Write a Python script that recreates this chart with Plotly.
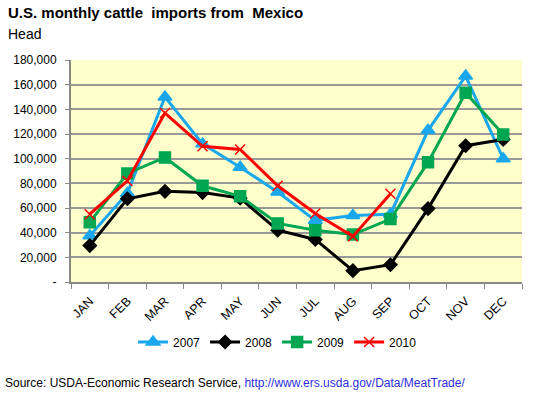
import plotly.graph_objects as go

months = ["JAN", "FEB", "MAR", "APR", "MAY", "JUN", "JUL", "AUG", "SEP", "OCT", "NOV", "DEC"]
y2007 = [37500, 72000, 150000, 112000, 93000, 73000, 50000, 54000, 55000, 123000, 167000, 100000]
y2008 = [29500, 67500, 73500, 72500, 68000, 42000, 34500, 9200, 14000, 59500, 110500, 115500]
y2009 = [48500, 88000, 101000, 78000, 69500, 47500, 42000, 38500, 51000, 97000, 153500, 119500]
y2010 = [55000, 82000, 137000, 110000, 107500, 78000, 55500, 37000, 71500]
tick_vals = [0, 20000, 40000, 60000, 80000, 100000, 120000, 140000, 160000, 180000]
tick_text = ["-", "20,000", "40,000", "60,000", "80,000", "100,000", "120,000", "140,000", "160,000", "180,000"]

FONT = "Liberation Sans, Arial, sans-serif"

fig = go.Figure()
series = [
    ("2007", y2007, "#1AA7EC", "triangle-up", 12),
    ("2008", y2008, "#000000", "diamond", 10),
    ("2009", y2009, "#00A651", "square", 11),
    ("2010", y2010, "#FF0000", "x-thin", 10),
]
for name, vals, color, sym, sz in series:
    fig.add_trace(go.Scatter(
        x=months[:len(vals)], y=vals, name=name, mode="lines+markers",
        line=dict(color=color, width=3),
        marker=dict(symbol=sym, size=sz, color=color,
                    line=dict(color=color, width=1.5)),
    ))

fig.update_layout(
    width=536, height=398,
    margin=dict(l=71, r=14, t=60, b=116),
    paper_bgcolor="white",
    plot_bgcolor="#FFFFCC",
    font=dict(family=FONT, size=12, color="#000000"),
    showlegend=True,
    legend=dict(orientation="h", x=0.458, xanchor="center", y=-0.27, yanchor="middle",
                font=dict(size=12, family=FONT), traceorder="normal",
                itemwidth=30, tracegroupgap=0),
    xaxis=dict(
        type="category", categoryorder="array", categoryarray=months,
        range=[-0.5, 11.5],
        tickangle=-45, tickson="boundaries", ticks="outside", ticklen=5,
        tickcolor="#888888", showline=True, linecolor="#888888", linewidth=2,
        showgrid=False, tickfont=dict(size=12.5, family=FONT),
        ticklabelstandoff=5,
    ),
    yaxis=dict(
        range=[0, 180000], tickvals=tick_vals, ticktext=tick_text,
        ticks="outside", ticklen=4, tickcolor="#888888",
        showline=True, linecolor="#888888", linewidth=2,
        showgrid=True, gridcolor="#999999", gridwidth=1.5,
        zeroline=False, tickfont=dict(size=12, family=FONT),
        ticklabelstandoff=6,
    ),
    annotations=[
        dict(text="<b>U.S. monthly cattle  imports from  Mexico</b>", xref="paper", yref="paper",
             x=0.0, y=1.0, xanchor="left", yanchor="middle",
             font=dict(size=15, family=FONT), showarrow=False,
             xshift=-71 + 6, yshift=60 - 12),
        dict(text="Head", xref="paper", yref="paper",
             x=0.0, y=1.0, xanchor="left", yanchor="middle",
             font=dict(size=14, family=FONT), showarrow=False,
             xshift=-71 + 6, yshift=60 - 34),
        dict(text="Source: USDA-Economic Research Service, <span style='color:#2F2FDF'>http://www.ers.usda.gov/Data/MeatTrade/</span>",
             xref="paper", yref="paper", x=0.0, y=0.0, xanchor="left", yanchor="middle",
             font=dict(size=12, family=FONT), showarrow=False,
             xshift=-71 + 3, yshift=-(383 - 282)),
    ],
)

fig.write_html("out.html", config={"displayModeBar": False},
               post_script="document.body.style.margin='0';document.body.style.padding='0';")
